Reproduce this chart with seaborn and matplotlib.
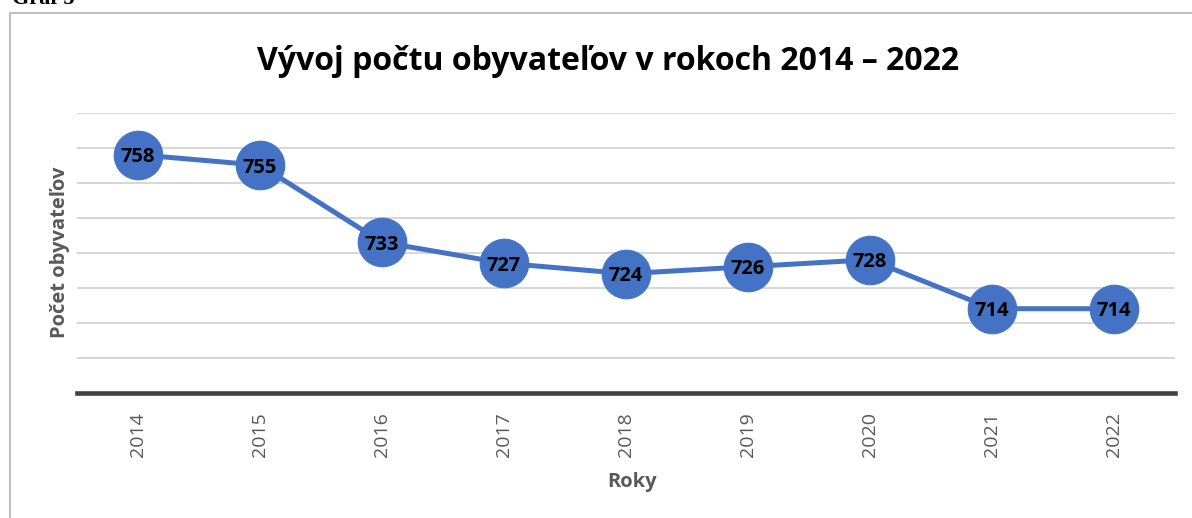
import matplotlib
matplotlib.use("Agg")
import matplotlib.pyplot as plt
import seaborn as sns
import pandas as pd
from matplotlib.lines import Line2D

years = ["2014", "2015", "2016", "2017", "2018", "2019", "2020", "2021", "2022"]
population = [758, 755, 733, 727, 724, 726, 728, 714, 714]
title = "Vývoj počtu obyvateľov v rokoch 2014 – 2022"
ylabel = "Počet obyvateľov"
xlabel = "Roky"
caption = "Graf 5"

df = pd.DataFrame({"rok": years, "pocet": population})

sns.set_theme(style="white")
plt.rcParams["font.family"] = ["Open Sans", "DejaVu Sans"]

W, H = 1192, 518
fig = plt.figure(figsize=(W / 100, H / 100), dpi=100)
ax = fig.add_axes([77 / W, 1 - 392.7 / H, (1175 - 77) / W, (392.7 - 112.7) / H])

blue = "#4472C4"
sns.lineplot(data=df, x="rok", y="pocet", ax=ax, color=blue, linewidth=3.6,
             marker="o", markersize=35, markeredgecolor=blue, markerfacecolor=blue,
             sort=False, zorder=3)

for i, v in enumerate(population):
    ax.text(i, v, str(v), ha="center", va="center_baseline", fontsize=14.5,
            fontweight="bold", color="black", zorder=4)

ax.set_xlim(-0.5, len(years) - 0.5)
ax.set_ylim(690, 770)
ax.set_yticks(range(700, 771, 10))
ax.yaxis.grid(True, color="#d0d0d0", linewidth=1.2)
ax.set_yticklabels([])
ax.tick_params(axis="y", length=0)
ax.tick_params(axis="x", length=0, labelrotation=90, labelsize=14,
               labelcolor="#595959", pad=14)
for s in ["top", "right", "left"]:
    ax.spines[s].set_visible(False)
ax.spines["bottom"].set_color("#404040")
ax.spines["bottom"].set_linewidth(3.3)
ax.set_axisbelow(True)

ax.set_xlabel("")
ax.set_ylabel("")
fig.text(632 / W, 1 - 482 / H, xlabel, ha="center", va="center",
         fontsize=14.5, fontweight="bold", color="#595959")
fig.text(60 / W, 1 - 252 / H, ylabel, ha="center", va="center", rotation=90,
         fontsize=14.5, fontweight="bold", color="#595959")

fig.text(608 / W, 1 - 61 / H, title, ha="center", va="center",
         fontsize=23, fontweight="bold", color="black")

# chart frame (top and left borders)
fig.add_artist(Line2D([10 / W, 1], [1 - 13 / H, 1 - 13 / H], transform=fig.transFigure,
                      color="#bfbfbf", linewidth=1.5))
fig.add_artist(Line2D([10 / W, 10 / W], [0, 1 - 13 / H], transform=fig.transFigure,
                      color="#bfbfbf", linewidth=1.5))

fig.text(12 / W, 1 - 4 / H, caption, ha="left", va="baseline", fontsize=16,
         fontweight="bold", family=["Liberation Serif", "DejaVu Serif"], color="black")

fig.savefig("out.png", dpi=100)
